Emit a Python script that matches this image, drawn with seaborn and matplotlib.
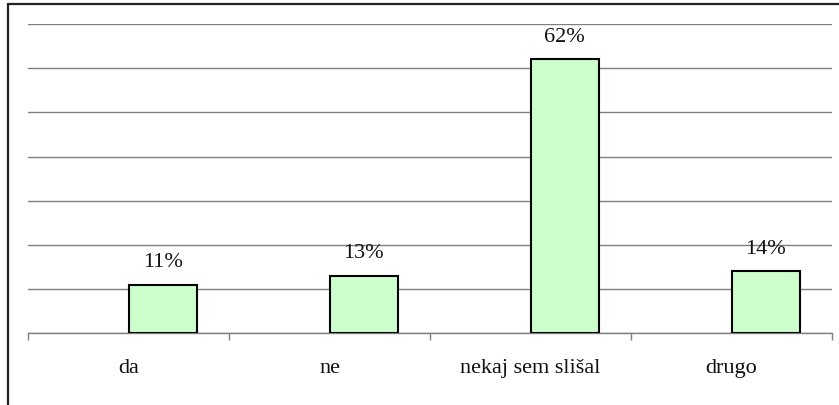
import matplotlib
matplotlib.use("Agg")
import matplotlib.pyplot as plt
from matplotlib.lines import Line2D
from matplotlib.ticker import FixedLocator, MultipleLocator
import seaborn as sns
import pandas as pd

# data
categories = ["da", "ne", "nekaj sem slišal", "drugo"]
values = [11, 13, 62, 14]
labels = ["11%", "13%", "62%", "14%"]

sns.set_style("white")
plt.rcParams["font.family"] = ["Liberation Serif", "DejaVu Serif"]

df = pd.DataFrame({"odgovor": categories, "delez": values, "serija": "odgovori"})

fig = plt.figure(figsize=(8.39, 4.06), dpi=100)
ax = fig.add_axes([28 / 839, (406 - 334.3) / 406, 804 / 839, (334.3 - 24.9) / 406])

# excel-style: empty first series, data in the second slot
sns.barplot(data=df, x="odgovor", y="delez", hue="serija",
            hue_order=["prazno", "odgovori"], order=categories,
            palette={"prazno": "white", "odgovori": "#CCFFCC"}, saturation=1,
            width=0.68, dodge=True, edgecolor="black", linewidth=1.5,
            legend=False, ax=ax, zorder=3)

bars = [p for p in ax.patches if p.get_height() > 0]
bars.sort(key=lambda p: p.get_x())
for bar, lab in zip(bars, labels):
    ax.annotate(lab, (bar.get_x() + bar.get_width() / 2, bar.get_height()),
                xytext=(0, 16.5), textcoords="offset points",
                ha="center", va="center", fontsize=16, color="#111111")

ax.set_xlim(-0.5, len(categories) - 0.5)
ax.set_ylim(0, 70)
ax.yaxis.set_major_locator(MultipleLocator(10))
ax.grid(axis="y", color="#7f7f7f", linewidth=1)
ax.set_axisbelow(True)
ax.set_yticklabels([])
ax.tick_params(axis="y", length=0)
ax.set_xlabel("")
ax.set_ylabel("")

ax.xaxis.set_minor_locator(FixedLocator([i - 0.5 for i in range(len(categories) + 1)]))
ax.tick_params(axis="x", which="major", bottom=True, length=0, pad=18, labelsize=16,
               labelcolor="#111111")
ax.tick_params(axis="x", which="minor", bottom=True, length=5, width=1, color="#7f7f7f",
               direction="out")

for s in ["left", "right", "top"]:
    ax.spines[s].set_visible(False)
ax.spines["bottom"].set_color("#7f7f7f")
ax.spines["bottom"].set_linewidth(1)

# outer chart frame (left and top edges visible in the crop)
fig.add_artist(Line2D([8 / 839, 8 / 839], [0, (406 - 4.5) / 406], color="#222222", lw=1.6,
                      transform=fig.transFigure))
fig.add_artist(Line2D([8 / 839, 1], [(406 - 4.5) / 406, (406 - 4.5) / 406], color="#222222", lw=1.6,
                      transform=fig.transFigure))

fig.savefig("out.png", dpi=100)
